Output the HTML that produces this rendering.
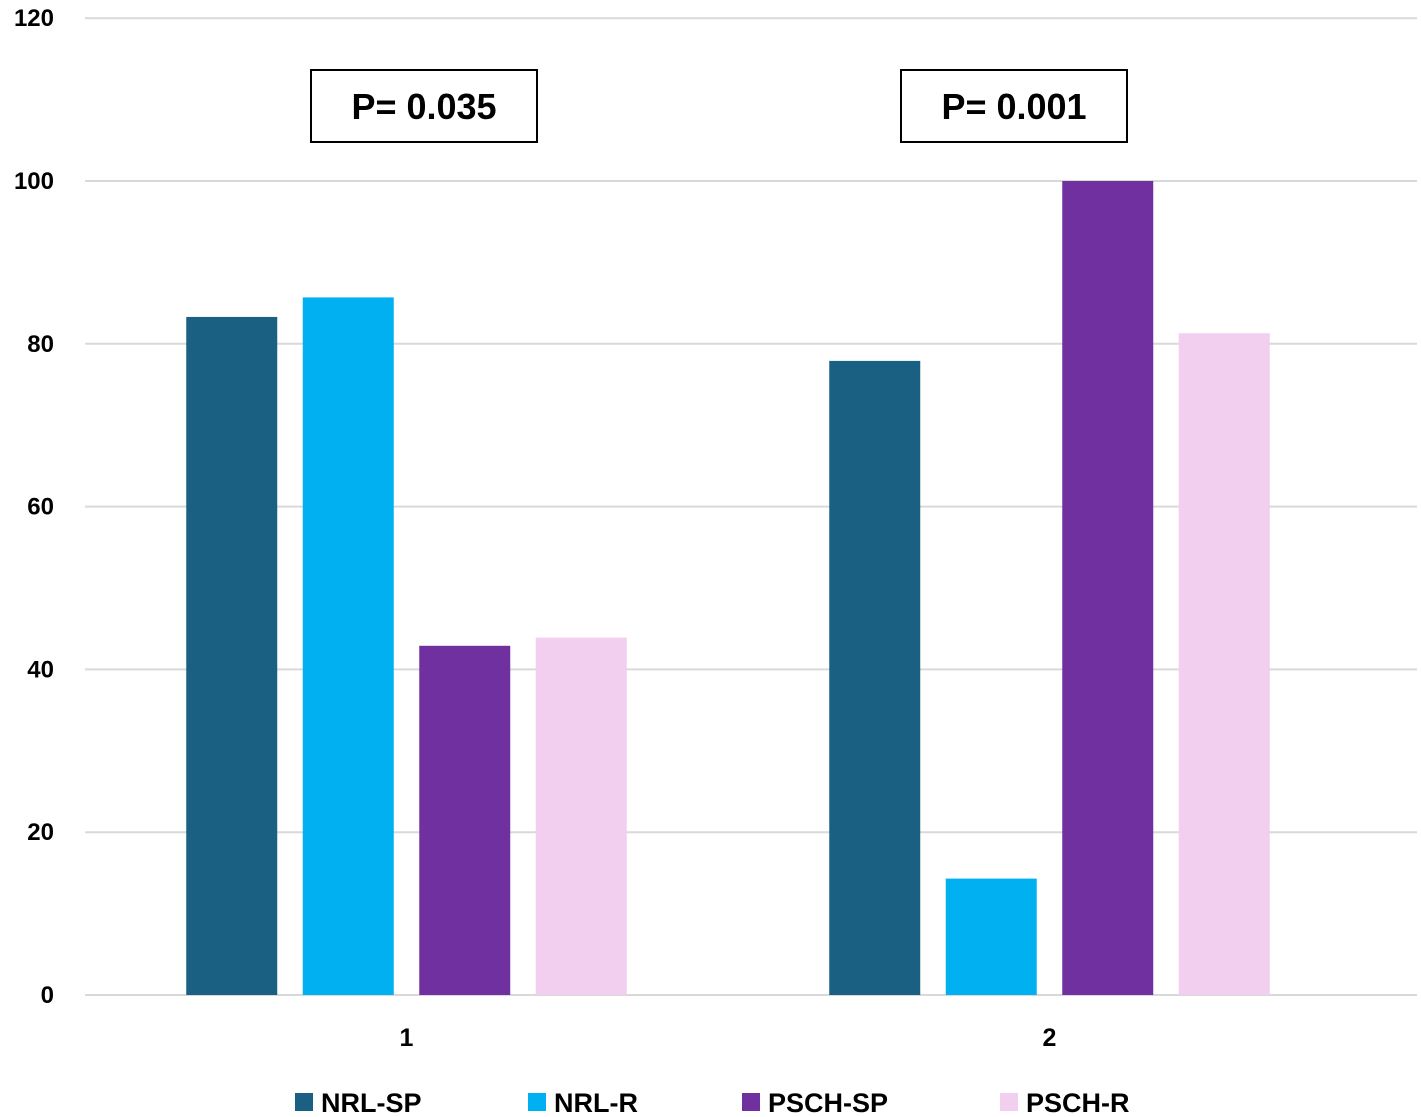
<!DOCTYPE html>
<html><head><meta charset="utf-8"><style>
body{margin:0;background:#fff;}
svg{display:block;font-family:"Liberation Sans",Arial,sans-serif;font-weight:bold;}
</style></head><body>
<svg id="chart" width="1421" height="1117" viewBox="0 0 1421 1117"></svg>
<script>
const categories = ["1","2"];
const seriesNames = ["NRL-SP","NRL-R","PSCH-SP","PSCH-R"];
const seriesColors = ["#1a6082","#00b0f0","#7030a0","#f2cfee"];
const valuesNRLSP = [83.3, 77.9];
const valuesNRLR = [85.7, 14.3];
const valuesPSCHSP = [42.9, 100];
const valuesPSCHR = [43.9, 81.3];
const yTicks = [0,20,40,60,80,100,120];
const pLabels = ["P= 0.035","P= 0.001"];

const series = [valuesNRLSP, valuesNRLR, valuesPSCHSP, valuesPSCHR];
const svg = document.getElementById('chart');
const NS = "http://www.w3.org/2000/svg";
const y0 = 995, pxPerUnit = 8.14;
const yScale = v => y0 - v * pxPerUnit;
const bandStart = 85, bandW = 643;
const xCenter = i => bandStart + bandW * (i + 0.5);
const barW = 91, barStep = 116.5;
const boxLeft = [311, 901];
function mk(tag, attrs, text){
  const e = document.createElementNS(NS, tag);
  for (const k in attrs) e.setAttribute(k, attrs[k]);
  if (text !== undefined) e.textContent = text;
  svg.appendChild(e); return e;
}
yTicks.forEach(t => {
  const g = mk('line', {x1:85, x2:1417, y1:yScale(t), y2:yScale(t), stroke:'#d9d9d9', 'stroke-width':2});
  
  
  const l = mk('text', {x:54, y:yScale(t)+8, 'text-anchor':'end', 'font-size':24, fill:'#000'}, String(t));
  
  
});
categories.forEach((c, i) => {
  const cx = xCenter(i);
  series.forEach((s, j) => {
    const x = cx - 2 * barStep + (barStep - barW) / 2 + j * barStep;
    const r = mk('rect', {x:x, y:yScale(s[i]), width:barW, height:y0 - yScale(s[i]), fill:seriesColors[j]});
    
    
  });
  const t = mk('text', {x:cx, y:1046, 'text-anchor':'middle', 'font-size':25, fill:'#000'}, c);
  
  
  const b = mk('rect', {x:boxLeft[i], y:70, width:226, height:72, fill:'#fff', stroke:'#000', 'stroke-width':2});
  
  
  const pt = mk('text', {x:boxLeft[i] + 113, y:119, 'text-anchor':'middle', 'font-size':36, fill:'#000'}, pLabels[i]);
  
  
});
const legX = [295, 528, 742, 1000];
seriesNames.forEach((n, j) => {
  const sq = mk('rect', {x:legX[j], y:1093, width:18, height:18, fill:seriesColors[j]});
  
  
  const lt = mk('text', {x:legX[j] + 26, y:1112, 'font-size':27, fill:'#000'}, n);
  
  
});
</script>
</body></html>
